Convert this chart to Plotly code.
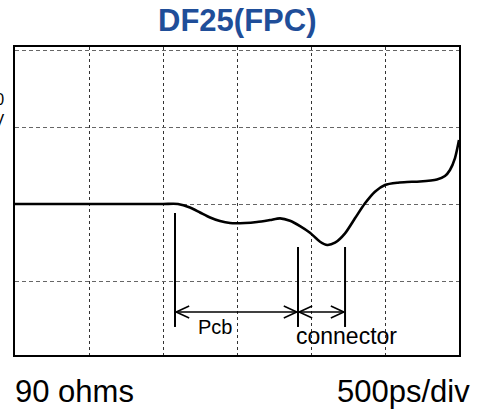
import plotly.graph_objects as go

# ---- data (time in ps, impedance in ohms) ----
time_ps = [0, 600, 1000, 1101, 1182, 1250, 1318, 1385, 1453, 1554, 1635, 1723, 1791,
           1858, 1926, 1993, 2061, 2110, 2162, 2230, 2297, 2365, 2432, 2500,
           2588, 2649, 2736, 2851, 2905, 2939, 2973, 3000]
impedance = [90, 90, 90, 90, 89.55, 88.90, 88.25, 87.79, 87.53, 87.53, 87.66, 87.92,
             88.14, 87.83, 87.14, 86.27, 85.10, 84.68, 84.97, 86.19, 88.14, 90.09,
             91.60, 92.47, 92.77, 92.86, 92.92, 93.18, 93.64, 94.42, 95.97, 98.31]

marker_t = [1081, 1912, 2230]          # region boundaries (ps)
marker_top = [88.83, 84.42, 84.42]     # top of each boundary line (ohm)
marker_bottom = 74.03
arrow_z = 75.97
region_labels = ["Pcb", "connector"]
label_t = [1348, 2240]
label_z = [74.03, 72.86]

X_RANGE = [0, 3000]
Y_RANGE = [70.39, 110.39]
W, H = 477, 412
M = dict(l=15, r=18, t=47, b=57)
PLOT_W = W - M["l"] - M["r"]
PLOT_H = H - M["t"] - M["b"]
ps_per_px = (X_RANGE[1] - X_RANGE[0]) / PLOT_W
z_per_px = (Y_RANGE[1] - Y_RANGE[0]) / PLOT_H

FONT = "Liberation Sans, Arial, sans-serif"

fig = go.Figure()

# main TDR trace
fig.add_trace(go.Scatter(x=time_ps, y=impedance, mode="lines",
                         line=dict(color="black", width=2.6, shape="spline", smoothing=0.7),
                         cliponaxis=False, hoverinfo="skip"))

# boundary lines
vx, vy = [], []
for t, top in zip(marker_t, marker_top):
    vx += [t, t, None]
    vy += [top, marker_bottom, None]
fig.add_trace(go.Scatter(x=vx, y=vy, mode="lines", line=dict(color="black", width=2),
                         hoverinfo="skip"))

# double arrows with open heads
gap = 1.2 * ps_per_px
hl = 13 * ps_per_px
hw = 6 * z_per_px
ax, ay = [], []
for a, b in zip(marker_t[:-1], marker_t[1:]):
    s, e = a + gap, b - gap
    ax += [s, e, None]
    ay += [arrow_z, arrow_z, None]
    ax += [s + hl, s, s + hl, None]
    ay += [arrow_z + hw, arrow_z, arrow_z - hw, None]
    ax += [e - hl, e, e - hl, None]
    ay += [arrow_z + hw, arrow_z, arrow_z - hw, None]
fig.add_trace(go.Scatter(x=ax, y=ay, mode="lines", line=dict(color="black", width=1.5),
                         hoverinfo="skip"))

annotations = [
    dict(text="DF25(FPC)", xref="paper", yref="paper", x=0.5, y=(PLOT_H + 26) / PLOT_H,
         xanchor="center", yanchor="middle", showarrow=False,
         font=dict(family=FONT, size=31, color="#1f4e99", weight="bold")),
    dict(text="90 ohms", xref="paper", yref="paper", x=-0.004, y=-36 / PLOT_H,
         xanchor="left", yanchor="middle", showarrow=False,
         font=dict(family=FONT, size=31, color="black")),
    dict(text="500ps/div", xref="paper", yref="paper", x=(472 - M["l"]) / PLOT_W, y=-36 / PLOT_H,
         xanchor="right", yanchor="middle", showarrow=False,
         font=dict(family=FONT, size=31, color="black")),
    dict(text="10<br>Ω/DIV", xref="paper", yref="paper", x=-9 / PLOT_W, y=(PLOT_H - 63) / PLOT_H,
         xanchor="right", yanchor="middle", align="right", showarrow=False,
         font=dict(family=FONT, size=16, color="black")),
]
for txt, t, z, sz in zip(region_labels, label_t, label_z, [20, 23]):
    annotations.append(dict(text=txt, x=t, y=z, xref="x", yref="y", showarrow=False,
                            xanchor="center", yanchor="middle",
                            font=dict(family=FONT, size=sz, color="black")))

fig.update_layout(
    width=W, height=H, margin=M, showlegend=False,
    paper_bgcolor="white", plot_bgcolor="white",
    annotations=annotations,
    xaxis=dict(range=X_RANGE, dtick=500, tick0=0, showticklabels=False, ticks="",
               showgrid=True, gridcolor="#333333", gridwidth=1.2, griddash="3px,3px",
               zeroline=False, showline=True, mirror=True, linecolor="black", linewidth=1.5,
               fixedrange=True),
    yaxis=dict(range=Y_RANGE, dtick=10, tick0=80, showticklabels=False, ticks="",
               showgrid=True, gridcolor="#666666", gridwidth=1.2, griddash="4px,3px",
               zeroline=False, showline=True, mirror=True, linecolor="black", linewidth=1.5,
               fixedrange=True),
)

fig.write_html("out.html", config={"displayModeBar": False},
               post_script="document.body.style.margin='0';document.body.style.overflow='hidden';")
